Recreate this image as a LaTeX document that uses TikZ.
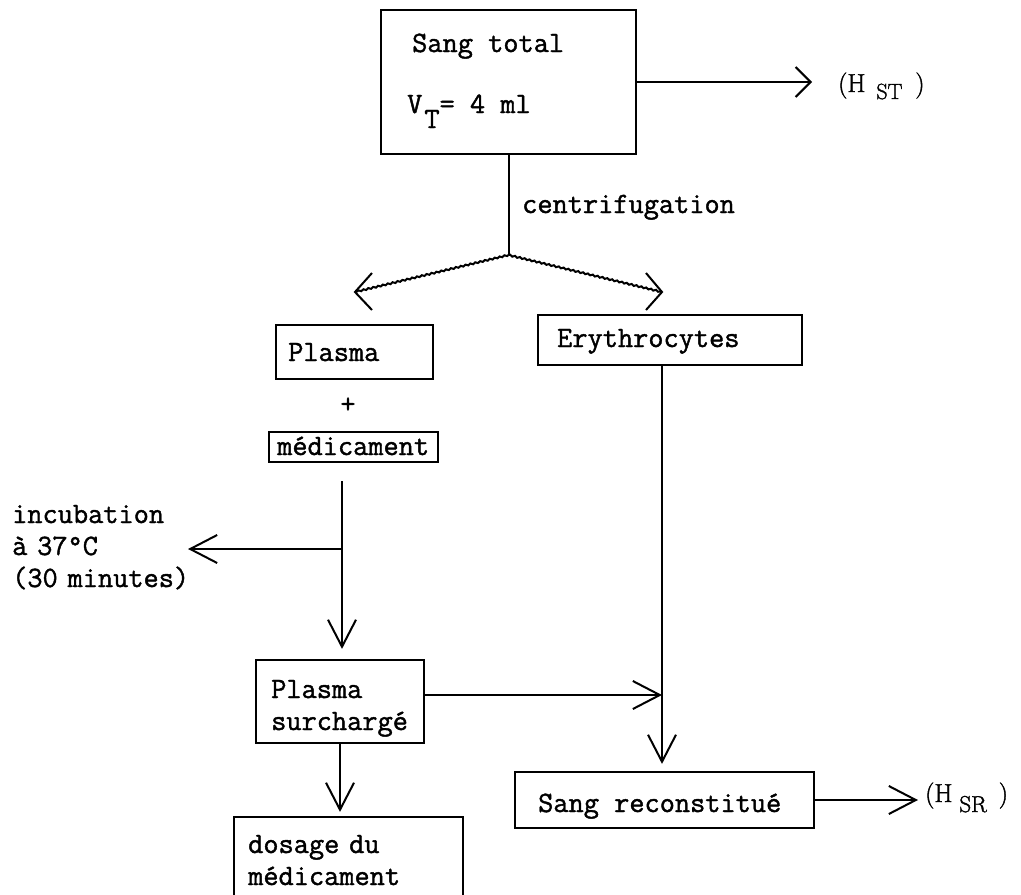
\documentclass[tikz,border=0pt]{standalone}
\usepackage{fontspec}
\newfontfamily\twfont{Latin Modern Mono}[FakeBold=1.4]
\newfontfamily\hfont{Latin Modern Roman}[FakeBold=1.6]
\usetikzlibrary{arrows.meta,decorations.pathmorphing}
\begin{document}
\begin{tikzpicture}[x=1pt,y=-1pt,
  box/.style={draw, line width=2.2pt, inner sep=0pt},
  txt/.style={inner sep=0pt, anchor=base west, font=\twfont\fontsize{29.5}{32}\selectfont},
  mtxt/.style={txt, align=left, text width=#1},
  rtxt/.style={inner sep=0pt, anchor=base west, font=\hfont\fontsize{26}{26}\selectfont},
  link/.style={line width=2pt},
  wavy/.style={decorate, decoration={snake, amplitude=0.7pt, segment length=5pt}},
  arr/.style={link, -{Straight Barb[length=27pt,width=28pt]}},
  arrS/.style={link, -{Straight Barb[length=15pt,width=30pt]}},
  headv/.style={link, line join=miter}
]
\useasboundingbox (0,0) rectangle (1021,895);
\clip (0,0) rectangle (1021,895);

% boxes
\node[box, minimum width=255pt, minimum height=144pt] (st) at (508.5,82) {};
\node[box, minimum width=157pt, minimum height=54pt] (plasma) at (354.5,352) {};
\node[box, minimum width=169pt, minimum height=30pt] (med) at (353.5,447) {};
\node[box, minimum width=264pt, minimum height=50pt] (ery) at (670,340) {};
\node[box, minimum width=168pt, minimum height=83pt] (ps) at (340,701.5) {};
\node[box, minimum width=229pt, minimum height=83pt] (dos) at (348.5,858.5) {};
\node[box, minimum width=299pt, minimum height=56pt] (sr) at (664.5,800) {};

% texts
\node[txt] (t1) at (412,52) {Sang total};
\node[txt] (t2) at (407,113) {V\hspace{2pt}\raisebox{-15pt}{T}= 4 ml};
\node[txt] (centr) at (522,213) {centrifugation};
\node[txt] (plt) at (288,361) {Plasma};
\node[txt, anchor=base] (plus) at (348,413) {+};
\node[txt] (medt) at (277,455) {médicament};
\node[txt] (eryt) at (557,347) {Erythrocytes};
\node[mtxt=200pt] (inct) at (12,523) {incubation\\à 37°C\\(30 minutes)};
\node[mtxt=160pt] (pst) at (271,698) {Plasma\\surchargé};
\node[mtxt=210pt] (dost) at (248,853) {dosage du\\médicament};
\node[txt] (srt) at (538,812) {Sang reconstitué};
\node[rtxt] (hst) at (838,92) {(H\hspace{11pt}\raisebox{-7pt}{\fontsize{22}{22}\selectfont ST}\hspace{13pt})};
\node[rtxt] (hsr) at (925,802) {(H\hspace{7pt}\raisebox{-10pt}{\fontsize{23}{23}\selectfont SR}\hspace{12pt})};

% coordinates
\coordinate (hstend) at (812,82);
\coordinate (br) at (508.5,255);
\coordinate (lt) at (355,292);
\coordinate (rt) at (662,292);
\coordinate (inc) at (342,549);
\coordinate (incend) at (188,549);
\coordinate (psj) at (662,695);
\coordinate (hsrend) at (918,800);

% connectors
\draw[arrS] (st.east) -- (hstend);
\draw[link] (st.south) -- (br);
\draw[link, wavy] (br) -- (lt);
\draw[link, wavy] (br) -- (rt);
\draw[headv] (lt) +(17,-19) -- (lt) -- +(17,18);
\draw[headv] (rt) +(-16,-19) -- (rt) -- +(-16,18);
\draw[arr, shorten <=18pt, shorten >=10pt] (med.south -| inc) -- (ps.north -| inc);
\draw[arr] (inc) -- (incend);
\draw[arr, shorten >=7pt] (ery.south -| rt) -- (sr.north -| rt);
\draw[arr] (ps.east |- psj) -- (psj);
\draw[arr, shorten >=4pt] (ps.south) -- (dos.north -| ps.south);
\draw[arr] (sr.east) -- (hsrend);
\end{tikzpicture}
\end{document}
